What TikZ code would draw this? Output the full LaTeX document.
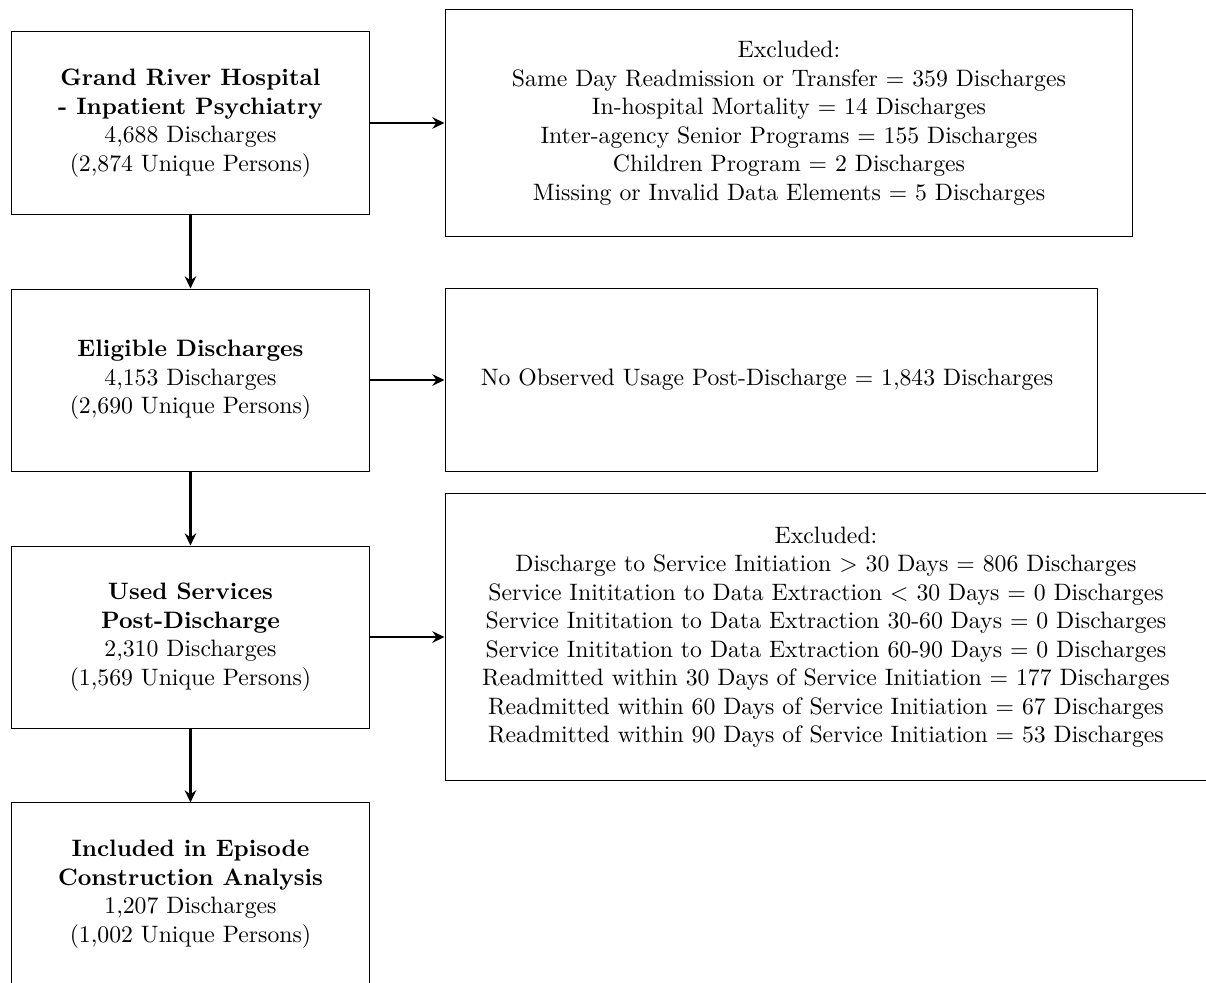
\documentclass[tikz,border=0pt]{standalone}
\usepackage{amsmath}
\usepackage{tikz}
\usetikzlibrary{arrows.meta}

\tikzset{
  stage/.style={rectangle,draw,align=center,minimum width=5.313cm,minimum height=2.694cm},
  excl/.style={rectangle,draw,align=center},
  flow/.style={-{Stealth[length=1.8mm,width=1.7mm,inset=0.6mm]},very thick}
}

\begin{document}
\begin{tikzpicture} % begins the tikz environment
    \useasboundingbox (0,0) rectangle (17.849,-14.534);
    \node (H) at (2.819,-1.820) [stage] {\textbf{Grand River Hospital}\\\textbf{- Inpatient Psychiatry}\\4,688 Discharges\\(2,874 Unique Persons)
    };
    \node (E) at (2.819,-5.624) [stage] {\textbf{Eligible Discharges}\\4,153 Discharges\\(2,690 Unique Persons)
    };
    \node (U) at (2.819,-9.428) [stage] {\textbf{Used Services}\\\textbf{Post-Discharge}\\2,310 Discharges\\(1,569 Unique Persons)
    };
    \node (I) at (2.819,-13.231) [stage] {\textbf{Included in Episode}\\\textbf{Construction Analysis}\\1,207 Discharges\\(1,002 Unique Persons)
    };
    \node (XH) at (11.677,-1.820) [excl,minimum width=10.182cm,minimum height=3.374cm] {Excluded:\\Same Day Readmission or Transfer $=$ 359 Discharges\\In-hospital Mortality $=$ 14 Discharges\\Inter-agency Senior Programs $=$ 155 Discharges\\Children Program $=$ 2 Discharges\\Missing or Invalid Data Elements $=$ 5 Discharges
    };
    \node (XE) at (11.411,-5.624) [excl,minimum width=9.650cm,minimum height=2.708cm] {No Observed Usage Post-Discharge $=$ 1,843 Discharges
    };
    \node (XU) at (12.225,-9.428) [excl,minimum width=11.278cm,minimum height=4.248cm] {Excluded:\\Discharge to Service Initiation $>$ 30 Days $=$ 806 Discharges\\Service Inititation to Data Extraction $<$ 30 Days $=$ 0 Discharges\\Service Inititation to Data Extraction 30-60 Days $=$ 0 Discharges\\Service Inititation to Data Extraction 60-90 Days $=$ 0 Discharges\\Readmitted within 30 Days of Service Initiation $=$ 177 Discharges\\Readmitted within 60 Days of Service Initiation $=$ 67 Discharges\\Readmitted within 90 Days of Service Initiation $=$ 53 Discharges
    };
    \draw[flow] (H) -- (XH);
    \draw[flow] (E) -- (XE);
    \draw[flow] (U) -- (XU);
    \draw[flow] (H) -- (E);
    \draw[flow] (E) -- (U);
    \draw[flow] (U) -- (I);
  \end{tikzpicture}
\end{document}
